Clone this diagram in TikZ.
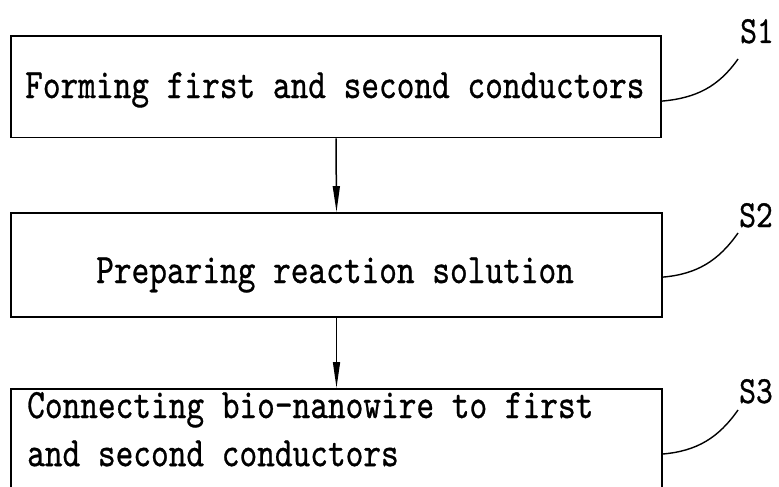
\documentclass[tikz,border=0pt]{standalone}
\usepackage{fontspec}
\usepackage{graphicx}
\usetikzlibrary{arrows.meta}
\newfontfamily\stepfont[FakeBold=0.8]{lmmono10-regular.otf}
\tikzset{
  stepbox/.style={draw, line width=1.8pt, inner sep=0pt},
  steptext/.style={inner sep=0pt, font=\stepfont\fontsize{33.7}{38.8}\selectfont},
  steplabel/.style={inner sep=0pt, font=\stepfont\fontsize{32}{36}\selectfont},
  flow/.style={line width=1.5pt, -{Triangle[length=26pt,width=7pt]}},
  leader/.style={line width=1.4pt},
}
\begin{document}
\begin{tikzpicture}[x=1pt,y=1pt]
\useasboundingbox (0,0) rectangle (779,-487);
\clip (0,0) rectangle (779,-487);
% boxes
\node[stepbox, minimum width=650pt, minimum height=101.5pt] (b1) at (336,-86.75) {};
\node[stepbox, minimum width=651pt, minimum height=104pt] (b2) at (336.5,-265) {};
\node[stepbox, minimum width=651pt, minimum height=150pt, anchor=north] (b3) at (336.5,-388) {};
% texts
\node[steptext, anchor=base west] (t1) at (25,-98) {\scalebox{1}[1.24]{Forming first and second conductors}};
\node[steptext, anchor=base west] (t2) at (96,-283) {\scalebox{1}[1.24]{Preparing reaction solution}};
\node[steptext, anchor=base west] (t3) at (27,-418) {\scalebox{1}[1.24]{\begin{tabular}[t]{@{}l@{}}Connecting bio-nanowire to first\\and second conductors\end{tabular}}};
% labels
\node[steplabel, anchor=base] (l1) at (757,-43) {\scalebox{1}[1.2]{S1}};
\node[steplabel, anchor=base] (l2) at (756,-227) {\scalebox{1}[1.2]{S2}};
\node[steplabel, anchor=base] (l3) at (756,-403) {\scalebox{1}[1.2]{S3}};
\coordinate (c1) at (738,-59);
\coordinate (c2) at (738,-233);
\coordinate (c3) at (738,-410);
% connectors
\draw[flow] (b1.south) -- (b2.north);
\draw[flow] (b2.south) -- (b3.north);
\draw[leader] ([yshift=-66pt]b1.north east) to[out=5,in=235] (c1);
\draw[leader] ([yshift=-65pt]b2.north east) to[out=5,in=235] (c2);
\draw[leader] ([yshift=-66pt]b3.north east) to[out=5,in=235] (c3);
\end{tikzpicture}
\end{document}
